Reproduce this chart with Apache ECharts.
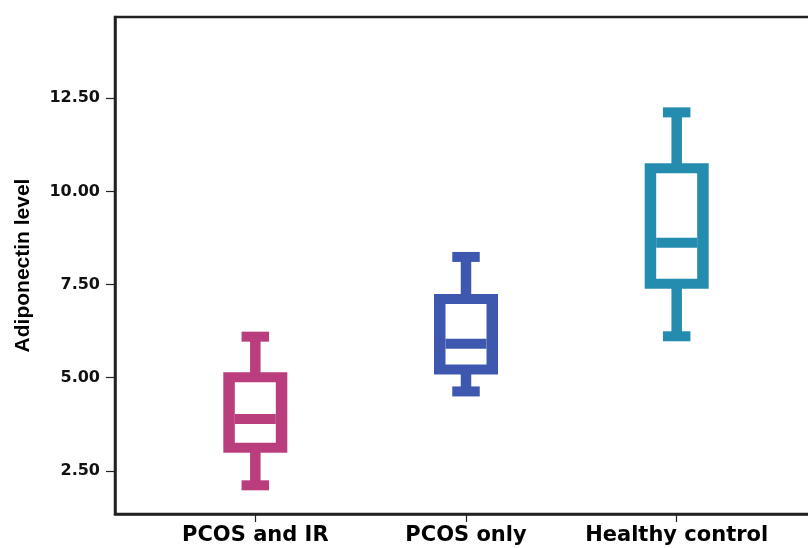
<!DOCTYPE html>
<html>
<head>
<meta charset="utf-8">
<script src="https://cdn.jsdelivr.net/npm/echarts@6/dist/echarts.min.js"></script>
<style>
  html, body { margin: 0; padding: 0; background: #ffffff; }
  #chart { width: 808px; height: 548px; }
</style>
</head>
<body>
<div id="chart"></div>
<script>
// Adiponectin level by group: whisker ends, quartiles and medians
const categories = ['PCOS and IR', 'PCOS only', 'Healthy control'];
const whiskerLow = [2.11, 4.63, 6.11];
const quartile1 = [3.12, 5.22, 7.52];
const medians = [3.89, 5.91, 8.62];
const quartile3 = [5.01, 7.11, 10.62];
const whiskerHigh = [6.10, 8.24, 12.12];
const yTicks = [2.5, 5, 7.5, 10, 12.5];
const catTicks = [0, 1, 2];
const colors = ['#BA3E7E', '#3E58B0', '#248CAE'];

const boxData = categories.map((c, i) => [
  i, whiskerLow[i], quartile1[i], medians[i], quartile3[i], whiskerHigh[i]
]);

// Box glyph sizes in pixels
const BOX_W = 64, WALL = 11.5, EDGE = 10, STEM = 10.5, CAP_W = 27.5, CAP_H = 10;

function renderBox(params, api) {
  const i = api.value(0);
  const cx = api.coord([i, 0])[0];
  const yLow = api.coord([i, api.value(1)])[1];
  const yQ1 = api.coord([i, api.value(2)])[1];
  const yMed = api.coord([i, api.value(3)])[1];
  const yQ3 = api.coord([i, api.value(4)])[1];
  const yHigh = api.coord([i, api.value(5)])[1];
  const color = colors[params.dataIndex];
  const fill = { fill: color };
  const left = cx - BOX_W / 2;
  return {
    type: 'group',
    children: [
      // upper and lower stems
      { type: 'rect', shape: { x: cx - STEM / 2, y: yHigh, width: STEM, height: yQ3 - yHigh }, style: fill },
      { type: 'rect', shape: { x: cx - STEM / 2, y: yQ1, width: STEM, height: yLow - yQ1 }, style: fill },
      // whisker caps
      { type: 'rect', shape: { x: cx - CAP_W / 2, y: yHigh - CAP_H / 2, width: CAP_W, height: CAP_H }, style: fill },
      { type: 'rect', shape: { x: cx - CAP_W / 2, y: yLow - CAP_H / 2, width: CAP_W, height: CAP_H }, style: fill },
      // box outline
      { type: 'rect', shape: { x: left, y: yQ3 - EDGE / 2, width: BOX_W, height: (yQ1 - yQ3) + EDGE }, style: fill },
      { type: 'rect', shape: { x: left + WALL, y: yQ3 + EDGE / 2, width: BOX_W - 2 * WALL, height: (yQ1 - yQ3) - EDGE }, style: { fill: '#ffffff' } },
      // median bar
      { type: 'rect', shape: { x: left + WALL, y: yMed - EDGE / 2, width: BOX_W - 2 * WALL, height: EDGE }, style: fill }
    ]
  };
}

const chart = echarts.init(document.getElementById('chart'), null, { renderer: 'canvas' });
chart.setOption({
  animation: false,
  backgroundColor: '#ffffff',
  grid: {
    left: 115, right: -9, top: 17, bottom: 34,
    show: true, borderColor: '#222222', borderWidth: 2.5,
    backgroundColor: 'transparent',
    containLabel: false,
    outerBoundsMode: 'none'
  },
  xAxis: {
    type: 'value',
    min: -0.666, max: 2.666,
    splitLine: { show: false },
    axisLine: { show: true, onZero: false, lineStyle: { color: '#222222', width: 2.5 } },
    axisTick: { show: true, customValues: catTicks, length: 8, lineStyle: { color: '#222222', width: 1.2 } },
    axisLabel: {
      show: true, customValues: catTicks, margin: 11,
      formatter: v => categories[Math.round(v)],
      fontFamily: 'DejaVu Sans', fontWeight: 'bold', fontSize: 21, color: '#000000'
    }
  },
  yAxis: {
    type: 'value',
    min: 1.34, max: 14.68,
    name: 'Adiponectin level',
    nameLocation: 'middle',
    nameRotate: 90,
    nameGap: 81,
    nameTextStyle: { fontFamily: 'Liberation Sans', fontWeight: 'bold', fontSize: 21, color: '#000000' },
    splitLine: { show: false },
    axisLine: { show: true, onZero: false, lineStyle: { color: '#222222', width: 2.5 } },
    axisTick: { show: true, customValues: yTicks, length: 9, lineStyle: { color: '#222222', width: 1.2 } },
    axisLabel: {
      show: true, customValues: yTicks, margin: 15,
      formatter: v => v.toFixed(2),
      fontFamily: 'DejaVu Sans', fontWeight: 'bold', fontSize: 16, color: '#111111'
    }
  },
  series: [{
    type: 'custom',
    renderItem: renderBox,
    encode: { x: 0, y: [1, 2, 3, 4, 5] },
    data: boxData
  }]
});
</script>
</body>
</html>
